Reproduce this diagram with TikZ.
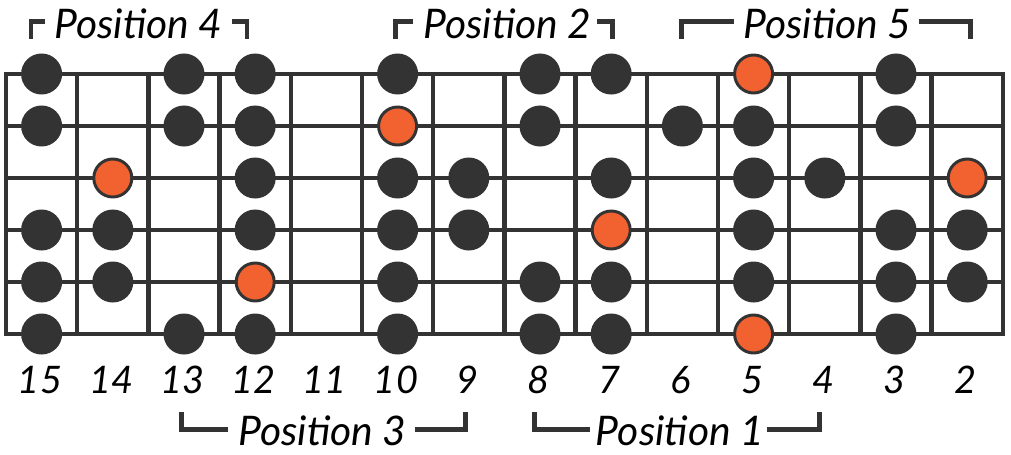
\documentclass[tikz,border=0pt]{standalone}
\usepackage{fontspec}
\setmainfont{Lato}
\usetikzlibrary{positioning}
\definecolor{fretgray}{RGB}{51,51,51}
\definecolor{rootorange}{RGB}{242,97,48}
\tikzstyle{note} = [circle, inner sep=0pt, minimum size=1.025cm,
                    fill=fretgray]
\tikzstyle{root} = [circle, inner sep=0pt, minimum size=0.95cm,
                    fill=rootorange, draw=fretgray, line width=2.1pt]
\tikzstyle{wire} = [draw=fretgray, line width=3.1pt, line cap=rect]
\tikzstyle{bracket} = [draw=fretgray, line width=3.3pt]
\tikzstyle{fretnum} = [font=\itshape\fontsize{27}{27}\selectfont,
                       anchor=base, inner sep=0pt]
\tikzstyle{poslabel} = [font=\itshape\fontsize{29}{29}\selectfont,
                        anchor=base, inner sep=0pt]

\begin{document}
\begin{tikzpicture}[x=0.025cm, y=-0.025cm]
    \useasboundingbox (0,0) rectangle (1011,454);

        % strings and frets
        \foreach \s in {0,...,5}
            \draw [wire] (6,74+52*\s) -- (1003,74+52*\s);
        \foreach \f in {0,...,14}
            \draw [wire] (6+71.2*\f,74) -- (6+71.2*\f,334);

        % string 1
        \foreach \f in {15,13,12,10,8,7,3}
            \node (S1F\f) [note] at ({41.6+71.2*(15-\f)},74) {};
        \node (S1F5) [root] at ({41.6+71.2*10},74) {};

        % string 2
        \foreach \f in {15,13,12,8,6,5,3}
            \node (S2F\f) [note] at ({41.6+71.2*(15-\f)},126) {};
        \node (S2F10) [root] at ({41.6+71.2*5},126) {};

        % string 3
        \foreach \f in {12,10,9,7,5,4}
            \node (S3F\f) [note] at ({41.6+71.2*(15-\f)},178) {};
        \node (S3F14) [root] at ({41.6+71.2*1},178) {};
        \node (S3F2) [root] at ({41.6+71.2*13},178) {};

        % string 4
        \foreach \f in {15,14,12,10,9,5,3,2}
            \node (S4F\f) [note] at ({41.6+71.2*(15-\f)},230) {};
        \node (S4F7) [root] at ({41.6+71.2*8},230) {};

        % string 5
        \foreach \f in {15,14,10,8,7,5,3,2}
            \node (S5F\f) [note] at ({41.6+71.2*(15-\f)},282) {};
        \node (S5F12) [root] at ({41.6+71.2*3},282) {};

        % string 6
        \foreach \f in {15,13,12,10,8,7,3}
            \node (S6F\f) [note] at ({41.6+71.2*(15-\f)},334) {};
        \node (S6F5) [root] at ({41.6+71.2*10},334) {};

        % fret numbers
        \foreach \f in {15,14,...,2}
            \node (Fret\f) [fretnum] at ({40+71.2*(15-\f)},393) {\f};

        % positions above
        \node (Position4) [poslabel] at (138.5,38) {Position 4};
        \draw [bracket] (45,21.7) -| (31,38.5);
        \draw [bracket] (232,21.7) -| (247,38.5);

        \node (Position2) [poslabel] at (507.5,38) {Position 2};
        \draw [bracket] (413,21.7) -| (395.5,38.5);
        \draw [bracket] (597,21.7) -| (612.5,38.5);

        \node (Position5) [poslabel] at (827.5,38) {Position 5};
        \draw [bracket] (734,21.7) -| (681.5,38.5);
        \draw [bracket] (919,21.7) -| (970.5,38.5);

        % positions below
        \node (Position3) [poslabel] at (322.5,445) {Position 3};
        \draw [bracket] (228,429.5) -| (181.5,412);
        \draw [bracket] (415,429.5) -| (465.5,412);

        \node (Position1) [poslabel] at (680,445) {Position 1};
        \draw [bracket] (590,429.5) -| (534.5,412);
        \draw [bracket] (767,429.5) -| (819.5,412);

    \end{tikzpicture}
\end{document}
